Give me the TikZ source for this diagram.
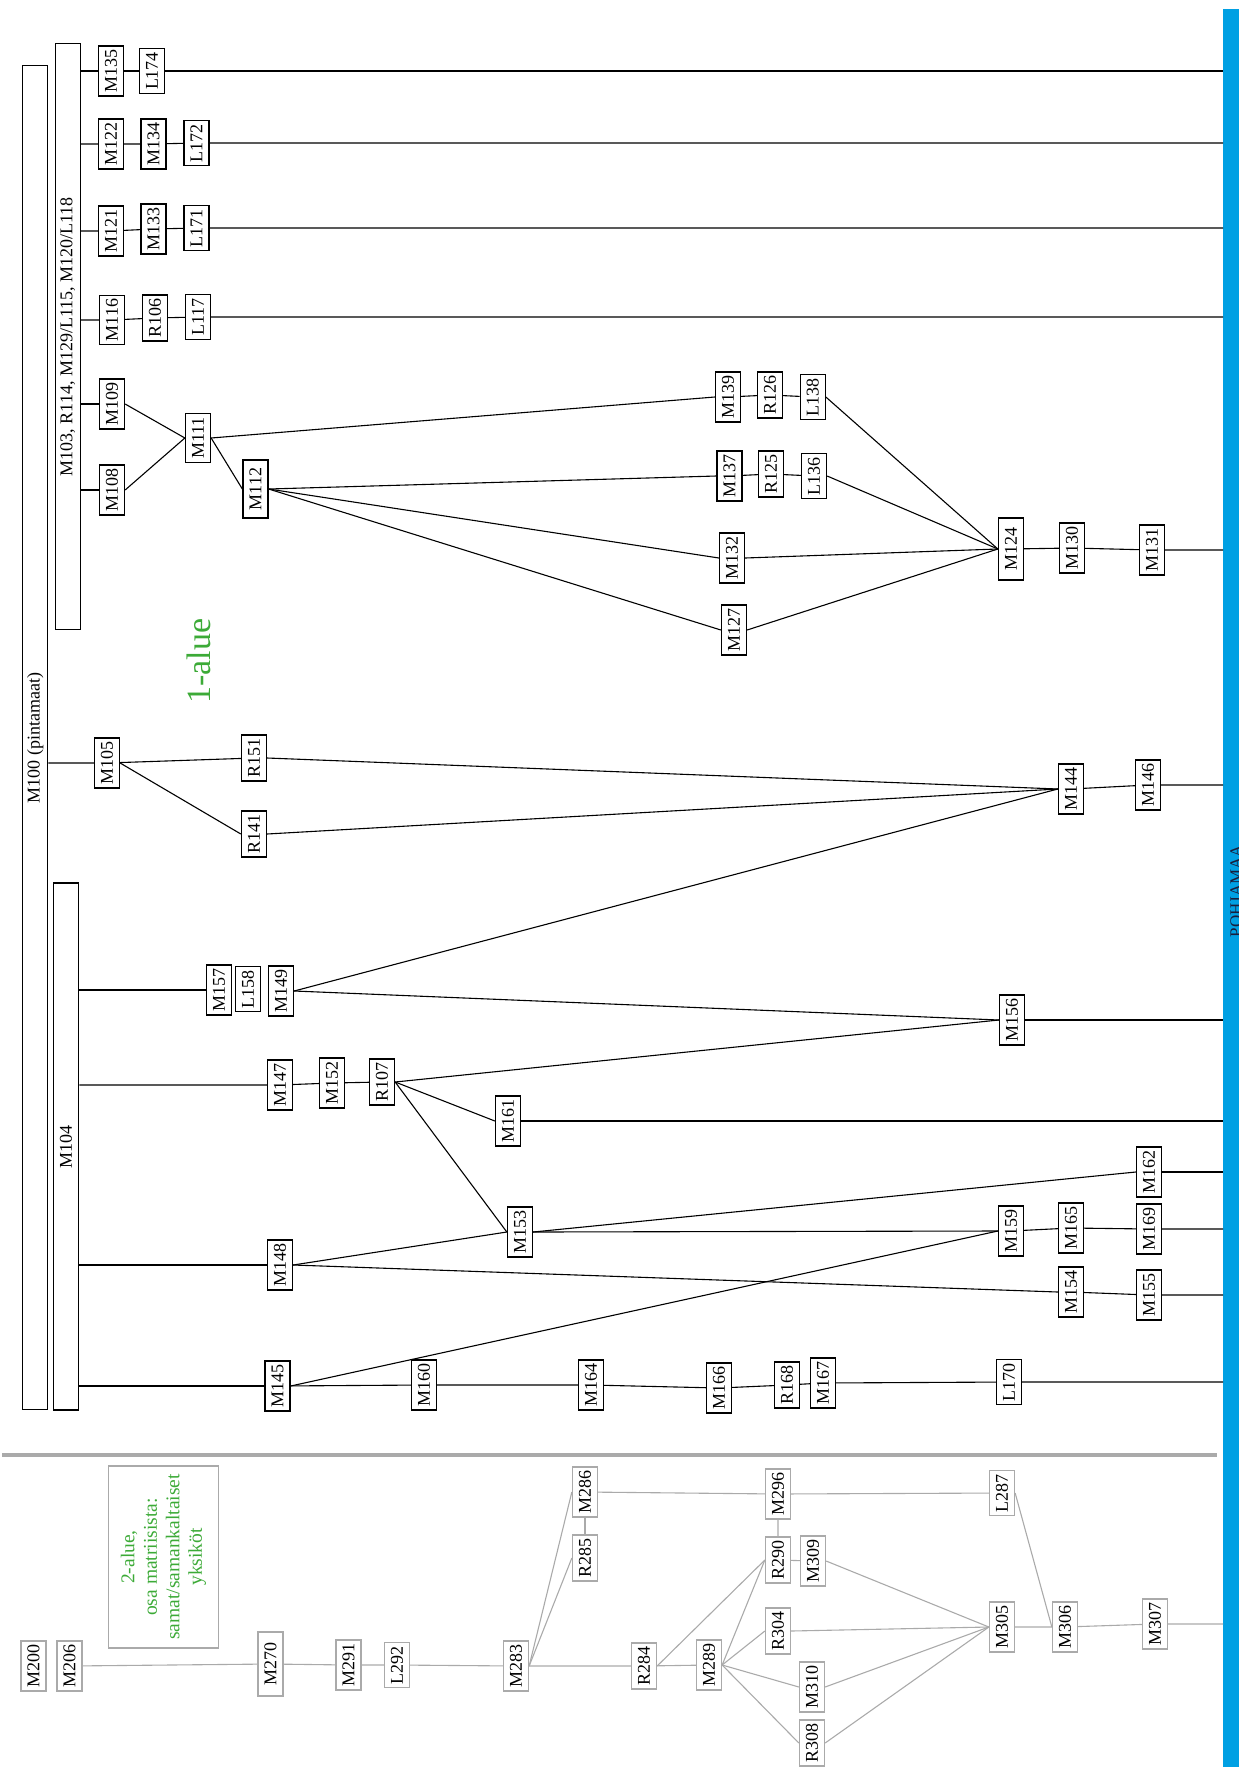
\documentclass[tikz,border=0pt]{standalone}
\usepackage{fontspec}
\setmainfont{Liberation Serif}
\usetikzlibrary{calc}
\definecolor{barblue}{RGB}{0,160,227}
\definecolor{areagreen}{RGB}{60,170,55}
\definecolor{linegray}{RGB}{170,170,170}
\definecolor{barnavy}{RGB}{25,30,60}

\begin{document}
\begin{tikzpicture}[x=1pt, y=-1pt,
  unit/.style={draw, line width=1.3pt, fill=white, rotate=90, inner xsep=3.5pt, inner ysep=0pt, minimum height=25pt, font=\fontsize{18}{20}\selectfont},
  longunit/.style={unit, minimum width=62pt},
  grayunit/.style={unit, draw=linegray},
  conn/.style={line width=1.1pt},
  grayconn/.style={line width=1.1pt, draw=linegray}]
  \useasboundingbox (0,0) rectangle (1239,1767);

  % Pohjamaa bar on the right (nodes: north = left side, south = right side)
  \node[fill=barblue, inner sep=0pt, minimum width=16pt, minimum height=1758pt, anchor=north west] (bar) at (1223,9) {};
  \node[rotate=90, anchor=base, text=barnavy, font=\fontsize{17}{19}\selectfont] (pohja) at (1241.5,891) {POHJAMAA};

  % Area 1: group boxes
  \node[unit, minimum width=1344pt] (M100) at (35.2,737.8) {M100 (pintamaat)};
  \node[unit, minimum width=586pt] (M103) at (67.8,336.6) {M103, R114, M129/L115, M120/L118};
  \node[unit, minimum width=527pt] (M104) at (66.1,1146.5) {M104};
  \node[rotate=90, text=areagreen, font=\fontsize{34}{40}\selectfont] (alue1) at (199,661) {1-alue};

  % Area 1: units under M103
  \node[unit] (M135) at (111,71) {M135};
  \node[unit] (L174) at (152,71) {L174};
  \node[unit] (M122) at (111,144) {M122};
  \node[unit] (M134) at (153.5,144) {M134};
  \node[unit] (L172) at (196.5,143) {L172};
  \node[unit] (M121) at (111,231) {M121};
  \node[unit] (M133) at (153.5,229) {M133};
  \node[unit] (L171) at (196.5,228) {L171};
  \node[unit] (M116) at (112,320) {M116};
  \node[unit] (R106) at (155,318) {R106};
  \node[unit] (L117) at (198,317) {L117};
  \node[unit] (M109) at (112,404) {M109};
  \node[unit] (M108) at (112,490) {M108};
  \node[unit] (M111) at (198,438) {M111};
  \node[longunit, minimum width=58pt] (M112) at (255.5,489) {M112};
  \node[unit] (M139) at (728,397) {M139};
  \node[unit] (R126) at (770,395) {R126};
  \node[unit] (L138) at (812.7,397) {L138};
  \node[unit] (M137) at (729.5,476) {M137};
  \node[unit] (R125) at (771,474) {R125};
  \node[unit] (L136) at (814,476) {L136};
  \node[unit] (M132) at (732,558) {M132};
  \node[unit] (M127) at (734,630) {M127};
  \node[longunit] (M124) at (1011,549) {M124};
  \node[unit] (M130) at (1072,548) {M130};
  \node[unit] (M131) at (1152,550) {M131};

  % Area 1: units under M100 and M104
  \node[unit] (M105) at (107,763) {M105};
  \node[unit] (R151) at (254,758) {R151};
  \node[unit] (R141) at (254,834) {R141};
  \node[unit] (M144) at (1071,789) {M144};
  \node[unit] (M146) at (1148,785) {M146};
  \node[unit] (M157) at (219,990) {M157};
  \node[unit] (L158) at (248,989) {L158};
  \node[unit] (M149) at (281,991) {M149};
  \node[unit] (M156) at (1012,1020) {M156};
  \node[unit] (M147) at (280,1085) {M147};
  \node[unit] (M152) at (332,1083) {M152};
  \node[unit] (R107) at (382,1082) {R107};
  \node[unit] (M161) at (508,1121) {M161};
  \node[unit] (M162) at (1149,1172) {M162};
  \node[unit] (M153) at (520,1232) {M153};
  \node[unit] (M159) at (1011,1231) {M159};
  \node[unit] (M165) at (1071,1228) {M165};
  \node[unit] (M169) at (1149,1229) {M169};
  \node[unit] (M148) at (280,1265) {M148};
  \node[unit] (M154) at (1071,1292) {M154};
  \node[unit] (M155) at (1149,1295) {M155};
  \node[unit] (M145) at (277.5,1386) {M145};
  \node[unit] (M160) at (424,1385) {M160};
  \node[unit] (M164) at (591,1385) {M164};
  \node[unit] (M166) at (719,1388) {M166};
  \node[unit] (R168) at (787,1385) {R168};
  \node[unit] (M167) at (823,1383) {M167};
  \node[unit] (L170) at (1009,1382) {L170};

  % Area 1: connections
  \draw[conn] (M103.south |- M135) -- (M135) -- (L174) -- (L174 -| bar.west);
  \draw[conn] (M103.south |- M122) -- (M122) -- (M134) -- (L172) -- (L172 -| bar.west);
  \draw[conn] (M103.south |- M121) -- (M121) -- (M133) -- (L171) -- (L171 -| bar.west);
  \draw[conn] (M103.south |- M116) -- (M116) -- (R106) -- (L117) -- (L117 -| bar.west);
  \draw[conn] (M103.south |- M109) -- (M109);
  \draw[conn] (M103.south |- M108) -- (M108);
  \draw[conn] (M109.south) -- (M111.north);
  \draw[conn] (M108.south) -- (M111.north);
  \draw[conn] (M111.south) -- (M112.north);
  \draw[conn] (M111.south) -- (M139.north);
  \draw[conn] (M112.south) -- (M137.north);
  \draw[conn] (M112.south) -- (M132.north);
  \draw[conn] (M112.south) -- (M127.north);
  \draw[conn] (M139) -- (R126) -- (L138);
  \draw[conn] (M137) -- (R125) -- (L136);
  \draw[conn] (L138.south) -- (M124.north);
  \draw[conn] (L136.south) -- (M124.north);
  \draw[conn] (M132.south) -- (M124.north);
  \draw[conn] (M127.south) -- (M124.north);
  \draw[conn] (M124) -- (M130) -- (M131) -- (M131 -| bar.west);

  \draw[conn] (M100.south |- M105) -- (M105) -- (R151);
  \draw[conn] (M105.south) -- (R141.north);
  \draw[conn] (R151.south) -- (M144.north);
  \draw[conn] (R141.south) -- (M144.north);
  \draw[conn] (M149.south) -- (M144.north);
  \draw[conn] (M144) -- (M146) -- (M146 -| bar.west);
  \draw[conn] (M104.south |- M157) -- (M157);
  \draw[conn] (M149.south) -- (M156.north);
  \draw[conn] (R107.south) -- (M156.north);
  \draw[conn] (M156) -- (M156 -| bar.west);
  \draw[conn] (M104.south |- M147) -- (M147) -- (M152) -- (R107);
  \draw[conn] (R107.south) -- (M161.north);
  \draw[conn] (R107.south) -- (M153.north);
  \draw[conn] (M161) -- (M161 -| bar.west);
  \draw[conn] (M104.south |- M148) -- (M148);
  \draw[conn] (M148.south) -- (M153.north);
  \draw[conn] (M148.south) -- (M154.north);
  \draw[conn] (M153.south) -- (M162.north);
  \draw[conn] (M153.south) -- (M159.north);
  \draw[conn] (M162) -- (M162 -| bar.west);
  \draw[conn] (M159) -- (M165) -- (M169) -- (M169 -| bar.west);
  \draw[conn] (M154) -- (M155) -- (M155 -| bar.west);
  \draw[conn] (M104.south |- M145) -- (M145);
  \draw[conn] (M145.south) -- (M159.north);
  \draw[conn] (M145) -- (M160) -- (M164) -- (M166) -- (R168) -- (M167) -- (L170) -- (L170 -| bar.west);

  % Separator between areas
  \draw[line width=4pt, linegray] (2,1455) -- (1217,1455);

  % Area 2
  \node[rotate=90, draw=linegray, line width=1.3pt, align=center, text=areagreen, minimum width=182pt, minimum height=110pt, font=\fontsize{19.5}{22.5}\selectfont] (note) at (163.5,1557) {2-alue,\\osa matriisista:\\samat/samankaltaiset\\yksiköt};
  \node[grayunit] (M200) at (33.6,1666) {M200};
  \node[grayunit] (M206) at (69.6,1666) {M206};
  \node[grayunit, minimum width=64pt] (M270) at (270.5,1664) {M270};
  \node[grayunit] (M291) at (348.6,1665) {M291};
  \node[grayunit] (L292) at (397,1665) {L292};
  \node[grayunit] (M283) at (516,1666) {M283};
  \node[grayunit] (R285) at (585,1558) {R285};
  \node[grayunit] (M286) at (585,1492) {M286};
  \node[grayunit] (M296) at (778,1494) {M296};
  \node[grayunit] (R290) at (778,1560) {R290};
  \node[grayunit] (M309) at (813,1561) {M309};
  \node[grayunit] (L287) at (1002,1493) {L287};
  \node[grayunit] (R284) at (644,1666) {R284};
  \node[grayunit] (M289) at (709,1665) {M289};
  \node[grayunit] (R304) at (778,1631) {R304};
  \node[grayunit] (M310) at (812,1687) {M310};
  \node[grayunit] (R308) at (812,1743) {R308};
  \node[grayunit] (M305) at (1002,1627) {M305};
  \node[grayunit] (M306) at (1065,1627) {M306};
  \node[grayunit] (M307) at (1155,1624) {M307};

  \draw[grayconn] (M206) -- (M270) -- (M291) -- (L292) -- (M283) -- (R284) -- (M289);
  \draw[grayconn] (M283.south) -- (M286.north);
  \draw[grayconn] (M283.south) -- (R285.north);
  \draw[grayconn] (R285) -- (M286);
  \draw[grayconn] (M286) -- (M296) -- (L287);
  \draw[grayconn] (M296) -- (R290) -- (M309);
  \draw[grayconn] (R284.south) -- (R290.north);
  \draw[grayconn] (M289.south) -- (R290.north);
  \draw[grayconn] (M289.south) -- (R304.north);
  \draw[grayconn] (M289.south) -- (M310.north);
  \draw[grayconn] (M289.south) -- (R308.north);
  \draw[grayconn] (M309.south) -- (M305.north);
  \draw[grayconn] (R304.south) -- (M305.north);
  \draw[grayconn] (M310.south) -- (M305.north);
  \draw[grayconn] (R308.south) -- (M305.north);
  \draw[grayconn] (L287.south) -- (M306.north);
  \draw[grayconn] (M305) -- (M306) -- (M307) -- (M307 -| bar.west);
\end{tikzpicture}
\end{document}
